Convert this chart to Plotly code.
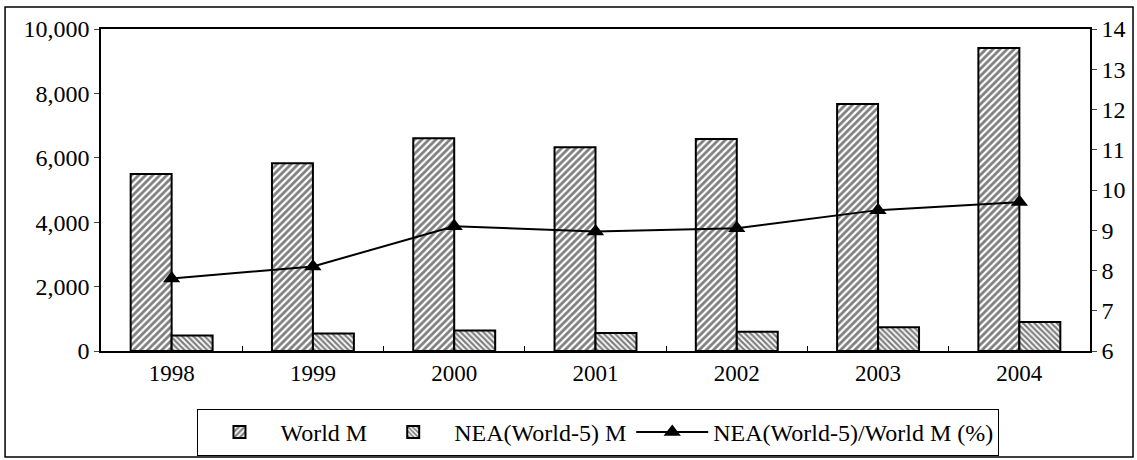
import plotly.graph_objects as go

years = ["1998", "1999", "2000", "2001", "2002", "2003", "2004"]
world_m = [5500, 5830, 6610, 6330, 6580, 7670, 9410]
nea_m = [480, 540, 640, 560, 600, 740, 900]
nea_share = [7.8, 8.1, 9.1, 8.97, 9.05, 9.5, 9.7]

FONT = "Liberation Serif, Times New Roman, serif"

fig = go.Figure()
fig.add_trace(go.Bar(
    x=years, y=world_m, name="World M",
    marker=dict(color="white", line=dict(color="black", width=2),
                pattern=dict(shape="/", fgcolor="black", bgcolor="white", size=5, solidity=0.55)),
))
fig.add_trace(go.Bar(
    x=years, y=nea_m, name="NEA(World-5) M",
    marker=dict(color="white", line=dict(color="black", width=2),
                pattern=dict(shape="\\", fgcolor="black", bgcolor="white", size=4, solidity=0.55)),
))
fig.add_trace(go.Scatter(
    x=years, y=nea_share, name="NEA(World-5)/World M (%)", yaxis="y2",
    mode="lines+markers",
    line=dict(color="black", width=2),
    marker=dict(symbol="triangle-up", size=15, color="black"),
))

fig.update_layout(
    width=1137, height=460,
    margin=dict(l=101, r=47, t=29, b=109, autoexpand=False),
    paper_bgcolor="white", plot_bgcolor="white",
    font=dict(family=FONT, size=21, color="black"),
    barmode="group", bargap=0.42, bargroupgap=0,
    showlegend=True,
    legend=dict(orientation="h", x=0.503, xanchor="center", y=-0.18, yanchor="top",
                bordercolor="black", borderwidth=1, font=dict(family=FONT, size=24),
                traceorder="normal", itemwidth=72, tracegroupgap=0),
    xaxis=dict(showline=True, linecolor="black", linewidth=2, mirror=True,
               ticks="inside", tickson="boundaries", ticklen=5, tickcolor="black",
               showgrid=False, tickfont=dict(size=23), automargin=False),
    yaxis=dict(range=[0, 10000], dtick=2000, tickformat=",", showline=True,
               linecolor="black", linewidth=1.5, ticks="outside", ticklen=5,
               showgrid=False, zeroline=False, tickfont=dict(size=24), automargin=False),
    yaxis2=dict(range=[6, 14], dtick=1, overlaying="y", side="right", showline=True,
                linecolor="black", linewidth=1.5, ticks="outside", ticklen=5,
                showgrid=False, zeroline=False, tickfont=dict(size=24), automargin=False),
    shapes=[dict(type="rect", xref="paper", yref="paper",
                 x0=-0.097, x1=1.0435, y0=-0.329, y1=1.068,
                 line=dict(color="black", width=1.5))],
)

fig.write_html("out.html")
